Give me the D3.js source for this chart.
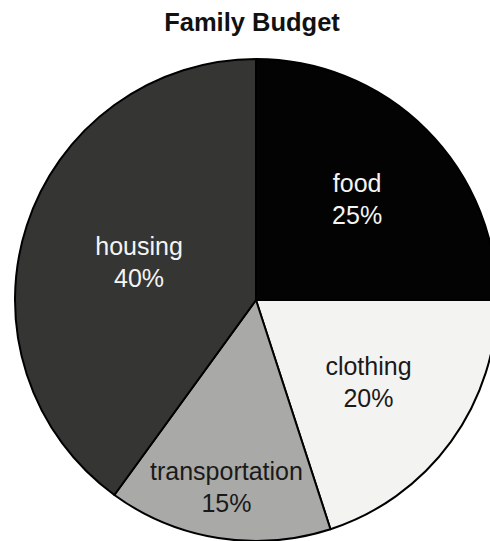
<!DOCTYPE html>
<html>
<head>
<meta charset="utf-8">
<script src="https://cdn.jsdelivr.net/npm/d3@7"></script>
<style>
  html, body { margin: 0; padding: 0; background: #ffffff; }
  svg { display: block; }
</style>
</head>
<body>
<script>
// Data
const categories = ["food", "clothing", "transportation", "housing"];
const values = [25, 20, 15, 40];
const labels = ["25%", "20%", "15%", "40%"];

// Styling / layout config (not data)
const fills = ["#030303", "#f3f3f1", "#a9a9a7", "#353533"];
const textColors = ["#f4f4f4", "#1a1a1a", "#1a1a1a", "#f4f4f4"];
const labelRadius = [143, 139, 189, 123];

const W = 490, H = 541;
const cx = 256, cy = 300, R = 241;

const svg = d3.select("body").append("svg")
  .attr("width", W).attr("height", H);

svg.append("text")
  .attr("x", 252).attr("y", 31)
  .attr("text-anchor", "middle")
  .attr("font-family", "'Liberation Sans', Arial, Helvetica, sans-serif")
  .attr("font-weight", "bold")
  .attr("font-size", 25.5)
  .attr("fill", "#111")
  .text("Family Budget");

const pie = d3.pie().sort(null).value(d => d);
const arcs = pie(values);
const arc = d3.arc().innerRadius(0).outerRadius(R);

const g = svg.append("g").attr("transform", `translate(${cx},${cy})`);

g.selectAll("path.slice")
  .data(arcs)
  .join("path")
  .attr("class", "slice")
  .attr("d", arc)
  .attr("fill", (d, i) => fills[i])
  .attr("stroke", "#000")
  .attr("stroke-width", 2)
  .attr("stroke-linejoin", "round");

const lbl = g.selectAll("g.label")
  .data(arcs)
  .join("g")
  .attr("class", "label")
  .attr("transform", (d, i) => {
    const c = d3.arc().innerRadius(labelRadius[i]).outerRadius(labelRadius[i]).centroid(d);
    return `translate(${c[0]},${c[1]})`;
  });

lbl.append("text")
  .attr("y", -7)
  .attr("text-anchor", "middle")
  .attr("font-family", "'Liberation Sans', Arial, Helvetica, sans-serif")
  .attr("font-size", 25)
  .attr("fill", (d, i) => textColors[i])
  .text((d, i) => categories[i]);

lbl.append("text")
  .attr("y", 25)
  .attr("text-anchor", "middle")
  .attr("font-family", "'Liberation Sans', Arial, Helvetica, sans-serif")
  .attr("font-size", 25)
  .attr("fill", (d, i) => textColors[i])
  .text((d, i) => labels[i]);
</script>
</body>
</html>
